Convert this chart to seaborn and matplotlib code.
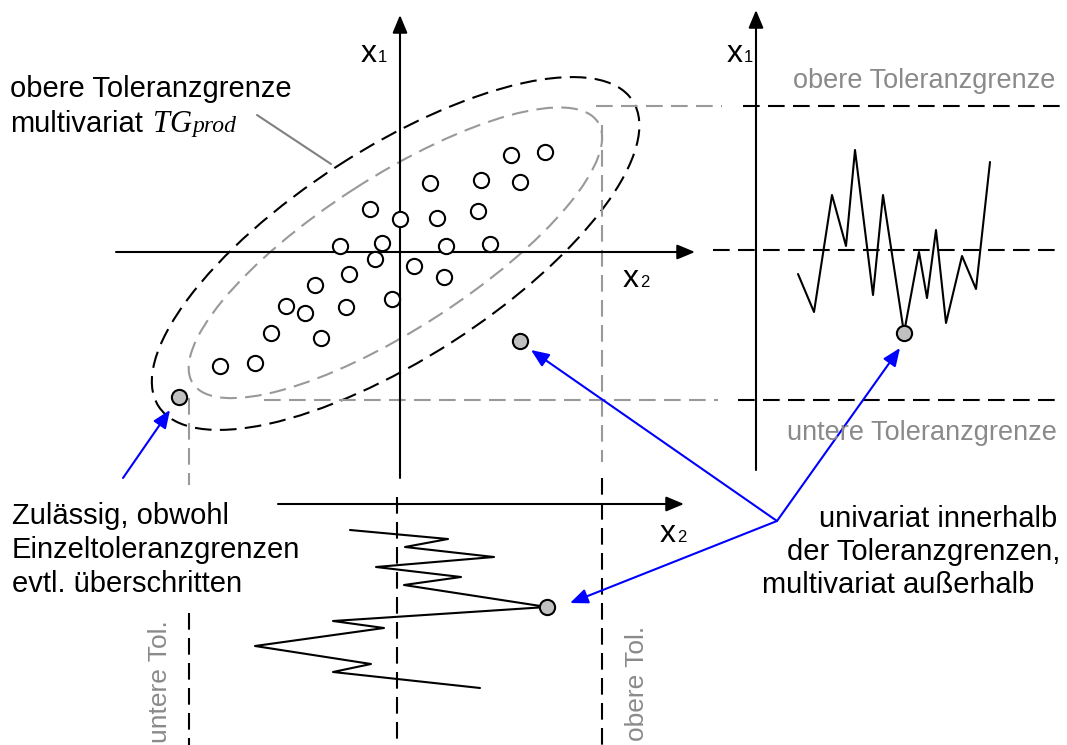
import numpy as np
import pandas as pd
import seaborn as sns
import matplotlib as mpl
import matplotlib.pyplot as plt
from matplotlib.patches import Ellipse, ArrowStyle

sns.set_theme(style="white")
plt.rcParams["font.family"] = ["Liberation Sans", "DejaVu Sans"]
plt.rcParams["text.color"] = "black"

# scatter of the two characteristics (x2 right, x1 up), relative to the axis origin
x2_ok = [145, 111, 81, 120, 30, -30, 78, 0, 37, -60, -18, 46, 90, -25, 14, -51,
         44, -85, -114, -95, -54, -8, -129, -79, -180, -145]
x1_ok = [100, 97, 72, 70, 69, 43, 41, 33, 34, 6, 9, 6, 8, -7, -14, -22,
         -25, -33, -54, -61, -55, -47, -81, -86, -114, -111]
x2_out = [120, -221]
x1_out = [-89, -145]

# x1 over time (right panel)
t_right = [42, 58, 76, 90, 99, 117, 127, 148, 163, 171, 180, 190, 206, 220, 234]
x1_series = [-24, -62, 55, 4, 100, -45, 55, -83, -2, -48, 20, -73, -6, -39, 88]
# x2 over time (bottom panel, time runs downwards)
t_bottom = [26, 35, 43, 53, 63, 73, 81, 103, 117, 124, 142, 160, 168, 184]
x2_series = [-47, 51, 8, 97, -21, 64, 7, 150, -64, -13, -142, -26, -64, 83]

# tolerance limits
x1_upper, x1_lower = 146, -148
x2_lower, x2_upper = -211, 202

# layout (pixel canvas)
W, H = 1067, 745
ox, oy = 400, 252        # scatter origin
rx, ry = 756, 250        # right panel: time axis x, centre line y
bx, by = 397, 504        # bottom panel: centre line x, time axis y
GRAY = "#999999"
TGRAY = "#8a8a8a"
BLUE = "#0000ff"
dash = (0, (8, 4))

fig = plt.figure(figsize=(W / 100, H / 100), dpi=100)
ax = fig.add_axes([0, 0, 1, 1])
ax.set_xlim(0, W)
ax.set_ylim(H, 0)
ax.axis("off")

head = ArrowStyle("-|>", head_length=0.6, head_width=0.25)


def arrow(p0, p1, color="black"):
    ax.annotate("", xy=p1, xytext=p0,
                arrowprops=dict(arrowstyle=head, color=color, lw=1.5,
                                mutation_scale=18, shrinkA=0, shrinkB=0))


# ellipses
ax.add_patch(Ellipse((395.6, 253.5), 2 * 282, 2 * 105, angle=-32.8, fill=False,
                     ec="black", lw=1.5, ls=dash, zorder=2))
ax.add_patch(Ellipse((395.4, 252.8), 2 * 241, 2 * 76, angle=-32.8, fill=False,
                     ec=GRAY, lw=1.5, ls=dash, zorder=2))

# projection guides
yu, yl = oy - x1_upper, oy - x1_lower
xl, xu = ox + x2_lower, ox + x2_upper
ax.plot([596, 722], [yu, yu], color=GRAY, lw=1.5, ls=dash)
ax.plot([264, 718], [yl, yl], color=GRAY, lw=1.5, ls=dash)
ax.plot([xl, xl], [398, 485], color=GRAY, lw=1.5, ls=dash)
ax.plot([xu, xu], [125, 462], color=GRAY, lw=1.5, ls=dash)

# scatter axes
arrow((ox, 478), (ox, 15))
arrow((116, oy), (695, oy))

# right panel
arrow((rx, 470), (rx, 10))
ax.plot([743, 1062], [yu, yu], color="black", lw=1.5, ls=dash)
ax.plot([713, 1062], [ry, ry], color="black", lw=1.5, ls=dash)
ax.plot([738, 1062], [yl, yl], color="black", lw=1.5, ls=dash)

# bottom panel
arrow((278, by), (684, by))
ax.plot([xl, xl], [613, 745], color="black", lw=1.5, ls=dash)
ax.plot([bx, bx], [497, 745], color="black", lw=1.5, ls=dash)
ax.plot([xu, xu], [478, 745], color="black", lw=1.5, ls=dash)

# series
sns.lineplot(x=np.array(t_right) + rx, y=ry - np.array(x1_series), sort=False,
             estimator=None, color="black", lw=1.5, ax=ax, zorder=3)
sns.lineplot(x=np.array(x2_series) + bx, y=np.array(t_bottom) + by, sort=False,
             estimator=None, color="black", lw=1.5, ax=ax, zorder=3)

sns.scatterplot(x=np.array(x2_ok) + ox, y=oy - np.array(x1_ok), s=120, marker="o",
                facecolor="white", edgecolor="black", linewidth=1.5, ax=ax, zorder=4)
out_x = [ox + x2_out[0], ox + x2_out[1], rx + t_right[7], bx + x2_series[7]]
out_y = [oy - x1_out[0], oy - x1_out[1], ry - x1_series[7], by + t_bottom[7]]
sns.scatterplot(x=out_x, y=out_y, s=120, marker="o", facecolor="#c0c0c0",
                edgecolor="black", linewidth=1.5, ax=ax, zorder=5)

# blue annotation arrows
arrow((123, 478), (170, 410), BLUE)
hub = (777, 521)
arrow(hub, (531, 350), BLUE)
arrow(hub, (900, 348), BLUE)
arrow(hub, (570, 603), BLUE)

# leader line
ax.plot([257, 331], [115, 164], color="#808080", lw=1.5)

# axis labels
def xlabel(x, y, sub):
    ax.text(x, y, "x", fontsize=23, va="baseline", ha="left")
    ax.text(x + 17, y, sub, fontsize=12, va="baseline", ha="left")


xlabel(361, 62, "1")
xlabel(727, 62, "1")
xlabel(623, 287, "2")
xlabel(660, 542, "2")

# texts
fs = 21
ax.text(10, 97, "obere Toleranzgrenze", fontsize=fs, va="baseline")
ax.text(10, 132, "multivariat", fontsize=fs, va="baseline")
ax.text(153, 132, "TG", fontsize=22, style="italic", va="baseline",
        family=["Liberation Serif"])
ax.text(192, 132, "prod", fontsize=17, style="italic", va="baseline",
        family=["Liberation Serif"])

ax.text(793, 88, "obere Toleranzgrenze", fontsize=19.5, color=TGRAY, va="baseline")
ax.text(787, 440, "untere Toleranzgrenze", fontsize=19.5, color=TGRAY, va="baseline")

for i, line in enumerate(["Zulässig, obwohl", "Einzeltoleranzgrenzen",
                          "evtl. überschritten"]):
    ax.text(12, 524 + 34 * i, line, fontsize=fs, va="baseline")

for xx, yy, line in [(819, 527, "univariat innerhalb"),
                     (787, 560, "der Toleranzgrenzen,"),
                     (762, 593, "multivariat außerhalb")]:
    ax.text(xx, yy, line, fontsize=fs, va="baseline")

ax.text(160, 682, "untere Tol.", fontsize=19, color=TGRAY, rotation=90,
        ha="center", va="center")
ax.text(637, 683, "obere Tol.", fontsize=19, color=TGRAY, rotation=90,
        ha="center", va="center")

fig.savefig("out.png", dpi=100)
